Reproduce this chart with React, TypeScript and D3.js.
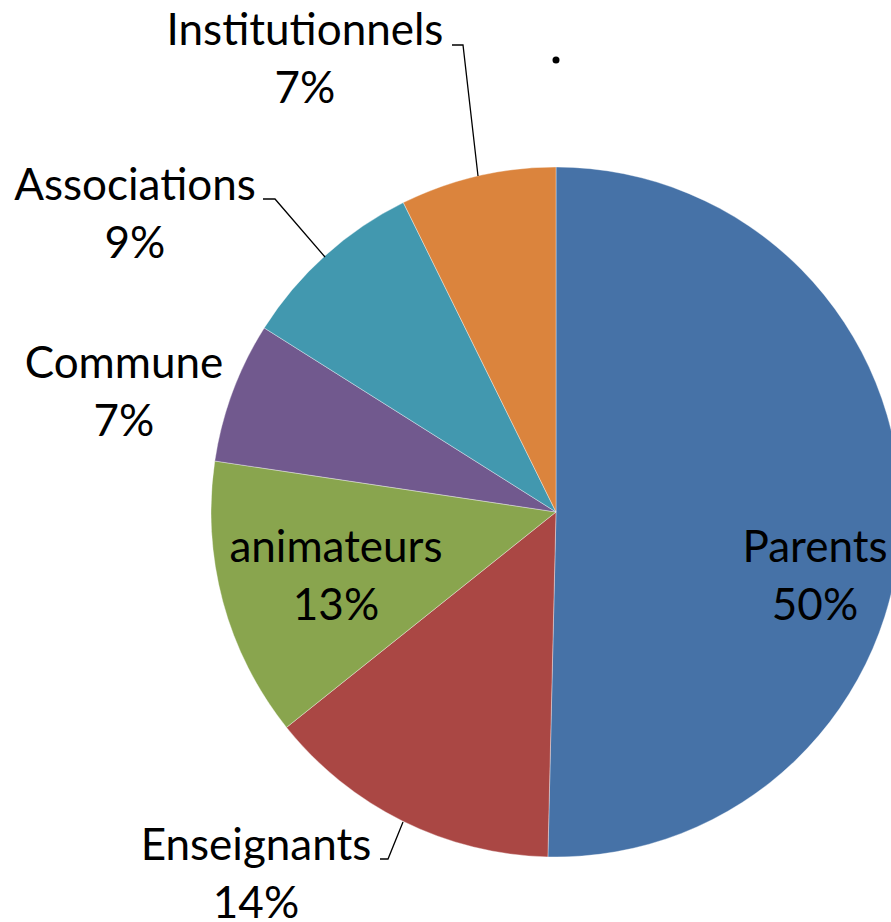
import { useEffect, useRef } from "react";
import * as d3 from "d3";

const categories = [
  "Parents",
  "Enseignants",
  "animateurs",
  "Commune",
  "Associations",
  "Institutionnels",
];
const shares = [50.4, 13.9, 13.1, 6.6, 8.75, 7.3];
const colors = ["#4672A7", "#AA4744", "#89A54E", "#71598E", "#4298AF", "#DB843D"];

// label anchors (centre x, first baseline y) as Excel placed them
const labelAnchors: [number, number][] = [
  [815, 562],
  [256, 860],
  [336, 562],
  [124, 378],
  [135, 200],
  [305, 45],
];
// leader lines for the labels sitting outside the pie
const leaders: Record<string, [number, number][]> = {
  Enseignants: [
    [380, 859],
    [388, 859],
    [403, 822],
  ],
  Associations: [
    [263, 199],
    [275, 199],
    [325, 257],
  ],
  Institutionnels: [
    [452, 45],
    [463, 45],
    [478, 176],
  ],
};

const width = 891;
const height = 922;
const cx = 556;
const cy = 512;
const radius = 345;

export default function App() {
  const ref = useRef<SVGSVGElement>(null);

  useEffect(() => {
    document.body.style.margin = "0";
    const svg = d3.select(ref.current);
    svg.selectAll("*").remove();

    const data = categories.map((name, i) => ({ name, value: shares[i], i }));
    const total = d3.sum(shares);
    const pie = d3
      .pie<(typeof data)[number]>()
      .sort(null)
      .value((d) => d.value);
    const arc = d3
      .arc<d3.PieArcDatum<(typeof data)[number]>>()
      .innerRadius(0)
      .outerRadius(radius);

    const g = svg.append("g").attr("transform", `translate(${cx},${cy})`);
    g.selectAll("path")
      .data(pie(data))
      .join("path")
      .attr("d", arc)
      .attr("fill", (d) => colors[d.data.i])
      .attr("stroke", "#ffffff")
      .attr("stroke-width", 0.6)
      .attr("stroke-opacity", 0.6);

    const line = d3.line();
    svg
      .append("g")
      .selectAll("path")
      .data(Object.values(leaders))
      .join("path")
      .attr("d", (pts) => line(pts))
      .attr("fill", "none")
      .attr("stroke", "#000000")
      .attr("stroke-width", 1.3);

    const labels = svg
      .append("g")
      .attr("font-family", "Lato, 'Open Sans', sans-serif")
      .attr("font-size", 44)
      .attr("fill", "#000000")
      .attr("text-anchor", "middle");

    data.forEach((d) => {
      const [x, y] = labelAnchors[d.i];
      const t = labels.append("text").attr("x", x).attr("y", y);
      t.append("tspan").attr("x", x).text(d.name);
      t.append("tspan")
        .attr("x", x)
        .attr("dy", 58)
        .text(`${Math.round((d.value / total) * 100)}%`);
    });

    // stray title mark
    svg
      .append("circle")
      .attr("cx", 556)
      .attr("cy", 60)
      .attr("r", 3.5)
      .attr("fill", "#000000");
  }, []);

  return (
    <svg
      ref={ref}
      width={width}
      height={height}
      viewBox={`0 0 ${width} ${height}`}
      style={{ display: "block", background: "#ffffff" }}
    />
  );
}
